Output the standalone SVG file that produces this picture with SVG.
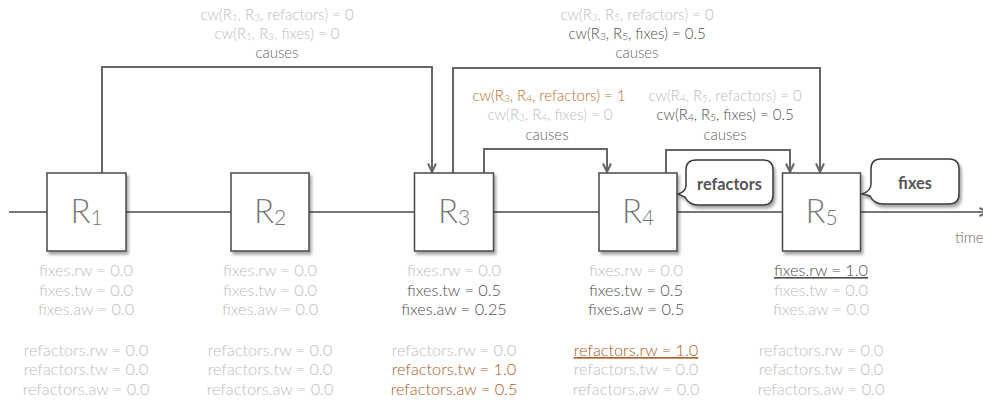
<svg xmlns="http://www.w3.org/2000/svg" width="983" height="403" viewBox="0 0 983 403">
<style>
text{font-family:Lato,"Open Sans","Liberation Sans",sans-serif;font-weight:300;font-size:15px;text-anchor:middle}
.st{font-size:16.3px}
.lt{fill:#bdbdbd}
.dk{fill:#505050}
.or{fill:#b5742f}
.br{fill:#a95d2c}
.box{fill:#fff;stroke:#4a4a4a;stroke-width:1.5}
.lbl{font-size:33px;fill:#777}
.conn{fill:none;stroke:#666;stroke-width:2}
.call{fill:#fff;stroke:#3a3a3a;stroke-width:1.5}
.ct{font-weight:700;fill:#555;font-size:16.3px}
</style>
<defs>
<filter id="sh" x="-20%" y="-20%" width="150%" height="150%">
<feDropShadow dx="2" dy="3" stdDeviation="1.8" flood-color="#000" flood-opacity="0.35"/>
</filter>
<marker id="ah" viewBox="0 0 10 10" refX="9.5" refY="5" markerWidth="10" markerHeight="10" markerUnits="userSpaceOnUse" orient="auto">
<path d="M1,1 L9.5,5 L1,9" fill="none" stroke="#666" stroke-width="2"/>
</marker>
</defs>

<g id="connectors">
<line class="conn" x1="9" y1="212" x2="988" y2="212" style="stroke:#777" marker-end="url(#ah)"/>
<polyline class="conn" points="102,173 102,67 432,67 432,172" marker-end="url(#ah)"/>
<polyline class="conn" points="453,173 453,68 820,68 820,172" marker-end="url(#ah)"/>
<polyline class="conn" points="484,173 484,149 607,149 607,172" marker-end="url(#ah)"/>
<polyline class="conn" points="666,173 666,150 790,150 790,172" marker-end="url(#ah)"/>
</g>

<g id="label-r1r3">
<text x="277" y="20" class="lt">cw(R<tspan font-size="10" dy="1">1</tspan><tspan dy="-1">, R</tspan><tspan font-size="10" dy="1">3</tspan><tspan dy="-1">, refactors) = 0</tspan></text>
<text x="277" y="39" class="lt">cw(R<tspan font-size="10" dy="1">1</tspan><tspan dy="-1">, R</tspan><tspan font-size="10" dy="1">3</tspan><tspan dy="-1">, fixes) = 0</tspan></text>
<text x="277" y="58" class="dk" style="fill:#666">causes</text>
</g>
<g id="label-r3r5">
<text x="637" y="20" class="lt">cw(R<tspan font-size="10" dy="1">3</tspan><tspan dy="-1">, R</tspan><tspan font-size="10" dy="1">5</tspan><tspan dy="-1">, refactors) = 0</tspan></text>
<text x="637" y="39" class="dk">cw(R<tspan font-size="10" dy="1">3</tspan><tspan dy="-1">, R</tspan><tspan font-size="10" dy="1">5</tspan><tspan dy="-1">, fixes) = 0.5</tspan></text>
<text x="637" y="58" class="dk" style="fill:#666">causes</text>
</g>
<g id="label-r3r4">
<text x="549" y="101" class="or">cw(R<tspan font-size="10" dy="1">3</tspan><tspan dy="-1">, R</tspan><tspan font-size="10" dy="1">4</tspan><tspan dy="-1">, refactors) = 1</tspan></text>
<text x="550" y="120" class="lt">cw(R<tspan font-size="10" dy="1">3</tspan><tspan dy="-1">, R</tspan><tspan font-size="10" dy="1">4</tspan><tspan dy="-1">, fixes) = 0</tspan></text>
<text x="547" y="140" class="dk" style="fill:#666">causes</text>
</g>
<g id="label-r4r5">
<text x="725" y="101" class="lt">cw(R<tspan font-size="10" dy="1">4</tspan><tspan dy="-1">, R</tspan><tspan font-size="10" dy="1">5</tspan><tspan dy="-1">, refactors) = 0</tspan></text>
<text x="725" y="120" class="dk">cw(R<tspan font-size="10" dy="1">4</tspan><tspan dy="-1">, R</tspan><tspan font-size="10" dy="1">5</tspan><tspan dy="-1">, fixes) = 0.5</tspan></text>
<text x="725" y="140" class="dk" style="fill:#666">causes</text>
</g>

<g id="R1">
<rect class="box" x="47" y="173" width="79" height="78" filter="url(#sh)"/>
<text x="86.5" y="223" class="lbl">R<tspan font-size="21" dy="2">1</tspan></text>
</g>
<g id="R2">
<rect class="box" x="231" y="173" width="78" height="78" filter="url(#sh)"/>
<text x="270" y="223" class="lbl">R<tspan font-size="21" dy="2">2</tspan></text>
</g>
<g id="R3">
<rect class="box" x="414.5" y="173" width="79" height="78" filter="url(#sh)"/>
<text x="454" y="223" class="lbl">R<tspan font-size="21" dy="2">3</tspan></text>
</g>
<g id="R4">
<rect class="box" x="599" y="173" width="78" height="78" filter="url(#sh)"/>
<text x="638" y="223" class="lbl">R<tspan font-size="21" dy="2">4</tspan></text>
</g>
<g id="R5">
<rect class="box" x="782.5" y="173" width="78" height="78" filter="url(#sh)"/>
<text x="821.5" y="223" class="lbl">R<tspan font-size="21" dy="2">5</tspan></text>
</g>

<g id="callout-refactors">
<path class="call" filter="url(#sh)" d="M696,160 H763 Q773,160 773,170 V195 Q773,205 763,205 H698 Q689,205 685,197 L678,194 Q686,192 686,185 V170 Q686,160 696,160 Z"/>
<text x="729.5" y="190" class="ct">refactors</text>
</g>
<g id="callout-fixes">
<path class="call" filter="url(#sh)" d="M881,159 H949 Q959,159 959,169 V194 Q959,204 949,204 H883 Q874,204 870,196 L862,194 Q871,191 871,184 V169 Q871,159 881,159 Z"/>
<text x="915" y="189" class="ct">fixes</text>
</g>

<g id="time-label">
<text x="955" y="243" style="text-anchor:start;fill:#666">time</text>
</g>

<g id="stats-R1" class="st">
<text x="86" y="276" class="st lt">fixes.rw = 0.0</text>
<text x="86" y="295.5" class="st lt">fixes.tw = 0.0</text>
<text x="86" y="315" class="st lt">fixes.aw = 0.0</text>
<text x="86" y="356" class="st lt">refactors.rw = 0.0</text>
<text x="86" y="375" class="st lt">refactors.tw = 0.0</text>
<text x="86" y="394.5" class="st lt">refactors.aw = 0.0</text>
</g>
<g id="stats-R2">
<text x="270" y="276" class="st lt">fixes.rw = 0.0</text>
<text x="270" y="295.5" class="st lt">fixes.tw = 0.0</text>
<text x="270" y="315" class="st lt">fixes.aw = 0.0</text>
<text x="270" y="356" class="st lt">refactors.rw = 0.0</text>
<text x="270" y="375" class="st lt">refactors.tw = 0.0</text>
<text x="270" y="394.5" class="st lt">refactors.aw = 0.0</text>
</g>
<g id="stats-R3">
<text x="454" y="276" class="st lt">fixes.rw = 0.0</text>
<text x="454" y="295.5" class="st dk">fixes.tw = 0.5</text>
<text x="454" y="315" class="st dk">fixes.aw = 0.25</text>
<text x="454" y="356" class="st lt">refactors.rw = 0.0</text>
<text x="454" y="375" class="st br">refactors.tw = 1.0</text>
<text x="454" y="394.5" class="st br">refactors.aw = 0.5</text>
</g>
<g id="stats-R4">
<text x="636" y="276" class="st lt">fixes.rw = 0.0</text>
<text x="636" y="295.5" class="st dk">fixes.tw = 0.5</text>
<text x="636" y="315" class="st dk">fixes.aw = 0.5</text>
<text x="636" y="356" class="st br" text-decoration="underline">refactors.rw = 1.0</text>
<text x="636" y="375" class="st lt">refactors.tw = 0.0</text>
<text x="636" y="394.5" class="st lt">refactors.aw = 0.0</text>
</g>
<g id="stats-R5">
<text x="821" y="276" class="st dk" text-decoration="underline">fixes.rw = 1.0</text>
<text x="821" y="295.5" class="st lt">fixes.tw = 0.0</text>
<text x="821" y="315" class="st lt">fixes.aw = 0.0</text>
<text x="821" y="356" class="st lt">refactors.rw = 0.0</text>
<text x="821" y="375" class="st lt">refactors.tw = 0.0</text>
<text x="821" y="394.5" class="st lt">refactors.aw = 0.0</text>
</g>
</svg>
